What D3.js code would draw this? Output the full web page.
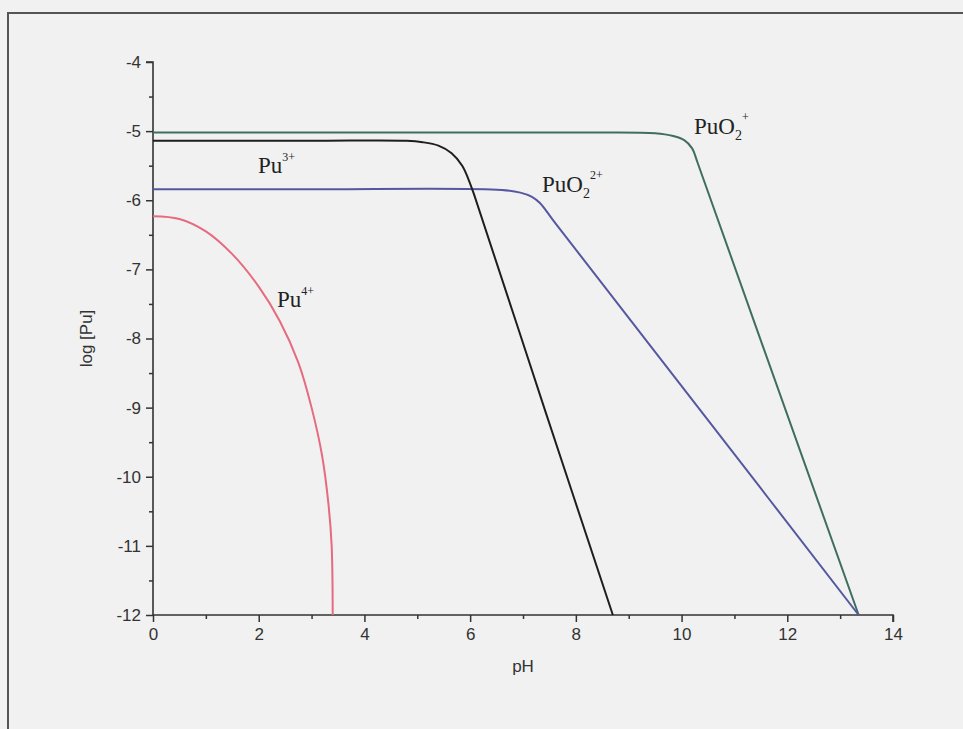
<!DOCTYPE html>
<html><head><meta charset="utf-8">
<script src="https://cdn.jsdelivr.net/npm/d3@7"></script>
<style>
html,body{margin:0;padding:0;background:#f1f1f1;}
svg{display:block;}
</style></head><body>
<svg id="chart" width="963" height="729"></svg>
<script>
// Data (pH, log[Pu])
const puO2plus = [[0,-5.02],[4,-5.02],[8,-5.02],[9.5,-5.03],[9.84,-5.07],[10.05,-5.13],[10.2,-5.25],[10.3,-5.45],[11.5,-8.03],[13.35,-12]];
const pu3plus = [[0,-5.14],[3,-5.14],[4.8,-5.14],[5.1,-5.16],[5.4,-5.21],[5.65,-5.32],[5.85,-5.5],[5.97,-5.7],[6.08,-5.93],[7.4,-9.0],[8.7,-12]];
const puO2_2plus = [[0,-5.84],[3,-5.84],[6.6,-5.85],[6.95,-5.89],[7.17,-5.95],[7.32,-6.04],[7.6,-6.32],[10.5,-9.18],[13.35,-12]];
const pu4plus = [[0,-6.23],[0.5,-6.27],[1.0,-6.45],[1.5,-6.78],[2.0,-7.25],[2.4,-7.75],[2.75,-8.35],[3.0,-9.0],[3.2,-9.7],[3.32,-10.4],[3.38,-11.0],[3.4,-12]];
const xTicks = [0,2,4,6,8,10,12,14];
const yTicks = [-4,-5,-6,-7,-8,-9,-10,-11,-12];
const xMinor = [1,3,5,7,9,11,13];
const yMinor = [-4.5,-5.5,-6.5,-7.5,-8.5,-9.5,-10.5,-11.5];

const svg = d3.select("#chart");
const x = d3.scaleLinear().domain([0,14]).range([153,893]);
const y = d3.scaleLinear().domain([-12,-4]).range([615,62]);

// frame
svg.append("path").attr("d","M8,729 L8,13 L963,13").attr("fill","none").attr("stroke","#555").attr("stroke-width",2);

const axisColor = "#333";
// y axis
const ya = svg.append("g").attr("transform","translate(153,0)")
  .call(d3.axisLeft(y).tickValues(yTicks).tickSize(7).tickPadding(5).tickFormat(d=>d));
ya.select(".domain").attr("d","M-7,"+y(-4)+"H0V"+y(-12)).attr("stroke",axisColor).attr("stroke-width",1.6);
svg.append("g").attr("transform","translate(153,0)")
  .call(d3.axisLeft(y).tickValues(yMinor).tickSize(4).tickFormat(""))
  .select(".domain").remove();
// x axis
const xa = svg.append("g").attr("transform","translate(0,615)")
  .call(d3.axisBottom(x).tickValues(xTicks).tickSize(7).tickPadding(6).tickFormat(d=>d));
xa.select(".domain").attr("d","M"+x(0)+",0H"+x(14)+"V7").attr("stroke",axisColor).attr("stroke-width",1.6);
svg.append("g").attr("transform","translate(0,615)")
  .call(d3.axisBottom(x).tickValues(xMinor).tickSize(4).tickFormat(""))
  .select(".domain").remove();
svg.selectAll(".tick line").attr("stroke",axisColor).attr("stroke-width",1.5);
svg.selectAll(".tick text").attr("font-family","'Liberation Sans', Arial, sans-serif").attr("font-size",17).attr("fill","#333");

// axis labels
svg.append("text").attr("x",x(7)).attr("y",672).attr("text-anchor","middle")
  .attr("font-family","'Liberation Sans', Arial, sans-serif").attr("font-size",17).attr("fill","#333").text("pH");
svg.append("text").attr("transform","translate(92,"+y(-8)+") rotate(-90)").attr("text-anchor","middle")
  .attr("font-family","'Liberation Sans', Arial, sans-serif").attr("font-size",17).attr("fill","#333").text("log [Pu]");

// lines
const line = d3.line().x(d=>x(d[0])).y(d=>y(d[1])).curve(d3.curveCatmullRom.alpha(0.5));
const series = [
  {d:puO2plus, c:"#3f6e60"},
  {d:puO2_2plus, c:"#5558a0"},
  {d:pu3plus, c:"#1e1e1e"},
  {d:pu4plus, c:"#e66b7e"}
];
series.forEach(s=>{
  svg.append("path").datum(s.d).attr("d",line).attr("fill","none").attr("stroke",s.c).attr("stroke-width",2);
});

// labels
function lab(px,py,base,sub,sup){
  const t = svg.append("text").attr("x",px).attr("y",py)
    .attr("font-family","'Liberation Serif','Times New Roman',serif").attr("font-size",23).attr("fill","#222");
  t.append("tspan").text(base);
  if(sub){ t.append("tspan").attr("dy",6).attr("font-size",14).text(sub); }
  if(sup){ t.append("tspan").attr("dy", sub? -19 : -12).attr("font-size",12).text(sup); }
}
lab(258,173,"Pu",null,"3+");
lab(277,307,"Pu",null,"4+");
lab(542,192,"PuO","2","2+");
lab(694,134,"PuO","2","+");
</script>
</body></html>
